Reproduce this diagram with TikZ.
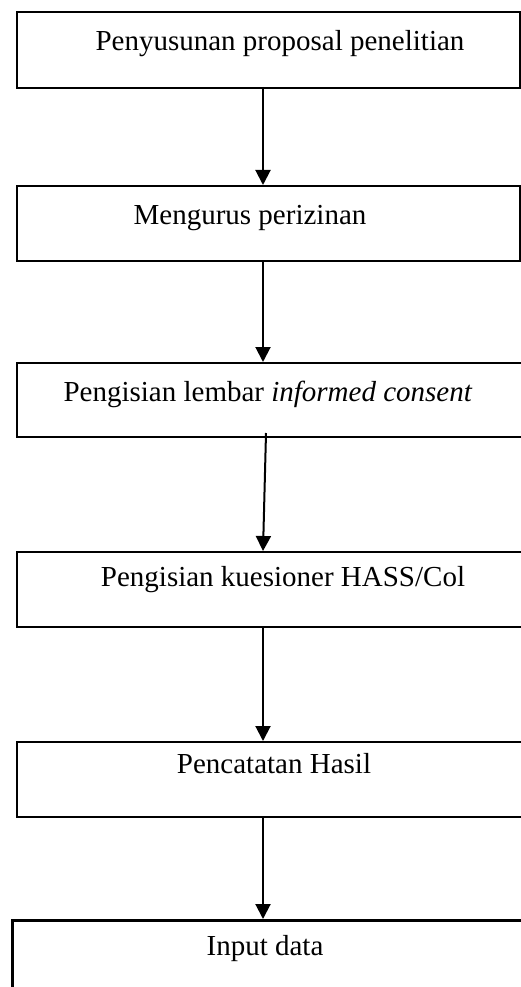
\documentclass[tikz,border=0pt]{standalone}
\usepackage{fontspec}
\setmainfont{Liberation Serif}
\usetikzlibrary{arrows.meta}
\tikzset{
  boxline/.style={draw=black, line width=1.9pt, inner sep=0pt, anchor=north west},
  lbl/.style={anchor=base, inner sep=0pt, font=\fontsize{29}{34}\selectfont},
  arr/.style={draw=black, line width=2pt, -{Triangle[width=15pt,length=15pt]}}
}
\begin{document}
\begin{tikzpicture}[x=1pt,y=-1pt]
\useasboundingbox (0,0) rectangle (521,987);
\clip (0,0) rectangle (521,987);
% boxes
\node[boxline, minimum width=503pt, minimum height=76pt] (b1) at (16,11) {};
\node[boxline, minimum width=503pt, minimum height=75pt] (b2) at (16,185) {};
\node[boxline, minimum width=530pt, minimum height=74pt] (b3) at (16,362) {};
\node[boxline, minimum width=530pt, minimum height=75pt] (b4) at (16,551) {};
\node[boxline, minimum width=530pt, minimum height=75pt] (b5) at (16,741) {};
\node[boxline, line width=2.6pt, minimum width=540pt, minimum height=100pt] (b6) at (11,919) {};
% labels
\node[lbl] (t1) at (280,51) {Penyusunan proposal penelitian};
\node[lbl] (t2) at (250,224) {Mengurus perizinan};
\node[lbl] (t3) at (268,401) {Pengisian lembar \textit{informed consent}};
\node[lbl] (t4) at (283,586) {Pengisian kuesioner HASS/Col};
\node[lbl] (t5) at (274,773) {Pencatatan Hasil};
\node[lbl] (t6) at (265,955) {Input data};
% arrow start points
\coordinate (s1) at (263,87);
\coordinate (s2) at (263,260);
\coordinate (s3) at (266,433);
\coordinate (e3) at (263,551);
\coordinate (s4) at (263,626);
\coordinate (s5) at (263,816);
\draw[arr] (s1) -- (s1 |- b2.north);
\draw[arr] (s2) -- (s2 |- b3.north);
\draw[arr] (s3) -- (e3);
\draw[arr] (s4) -- (s4 |- b5.north);
\draw[arr] (s5) -- (s5 |- b6.north);
\end{tikzpicture}
\end{document}
